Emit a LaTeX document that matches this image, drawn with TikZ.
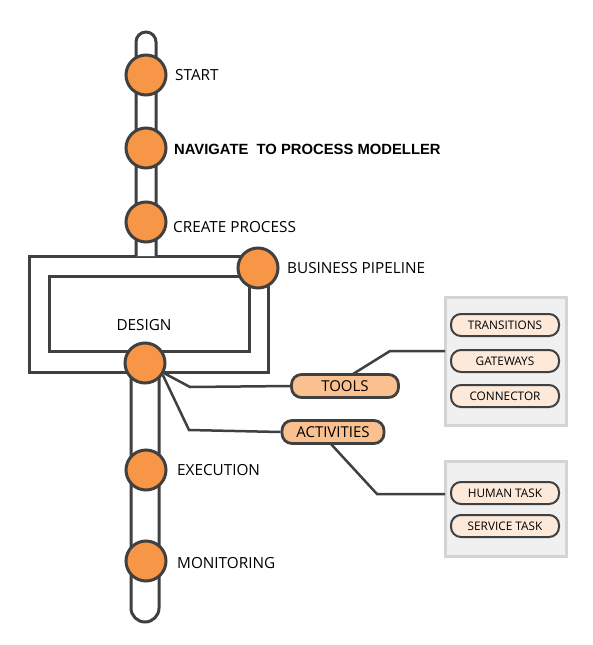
\documentclass[tikz,border=0pt]{standalone}
\usepackage{fontspec}
\setmainfont{Open Sans}
\newfontfamily\boldarial{Liberation Sans}[BoldFont={Liberation Sans Bold}]
\definecolor{ln}{HTML}{404040}
\definecolor{orng}{HTML}{F79646}
\definecolor{lorng}{HTML}{FAC090}
\definecolor{pale}{HTML}{FDE9D9}
\definecolor{panelfill}{HTML}{F0F0F0}
\definecolor{panelline}{HTML}{D4D4D4}
\tikzset{
  tube/.style={draw=ln, line width=3pt, fill=white},
  dot/.style={circle, draw=ln, line width=3pt, fill=orng, minimum size=40pt, inner sep=0pt},
  lbl/.style={anchor=west, font=\fontsize{15.3}{17}\selectfont, text=black, inner sep=0pt},
  pill/.style={rounded corners=10pt, draw=ln, line width=2.8pt, fill=lorng, minimum height=23pt, inner sep=0pt, font=\fontsize{15}{17}\selectfont},
  item/.style={rounded corners=10pt, draw=ln, line width=2pt, fill=pale, minimum width=108pt, minimum height=22pt, inner sep=0pt, font=\fontsize{11.8}{13}\selectfont},
  panel/.style={draw=panelline, line width=3pt, fill=panelfill},
  conn/.style={draw=ln, line width=2.5pt},
}
\begin{document}
\begin{tikzpicture}[x=1pt,y=-1pt]
\useasboundingbox (0,0) rectangle (592,645);
% loop
\draw[tube] (29,256) rectangle (268,372);
\draw[tube] (49,276) rectangle (249,351);
% top tube
\draw[tube] (136,256) -- (136,42) arc[start angle=180,end angle=360,radius=10] -- (156,256);
% bottom tube
\draw[tube] (131,373) -- (131,608) arc[start angle=180,end angle=0,radius=14] -- (159,373);
% panels
\draw[panel] (445,297) rectangle (566,425);
\draw[panel] (445,461) rectangle (566,556);
% circles
\node[dot] (st) at (146,75) {};
\node[dot] (nv) at (146,148) {};
\node[dot] (cp) at (146,222) {};
\node[dot] (bp) at (258,268) {};
\node[dot] (dz) at (145,363) {};
\node[dot] (ex) at (146,470) {};
\node[dot] (mo) at (146,561) {};
% labels
\node[lbl] (lst) at (175,75) {START};
\node[lbl, font=\boldarial\bfseries\fontsize{14.8}{17}\selectfont] (lnv) at (174,149) {NAVIGATE\ \ TO PROCESS MODELLER};
\node[lbl] (lcp) at (173,227) {CREATE PROCESS};
\node[lbl] (lbp) at (287,268) {BUSINESS PIPELINE};
\node[font=\fontsize{15.3}{17}\selectfont] (ldz) at (144,325) {DESIGN};
\node[lbl] (lex) at (177,470) {EXECUTION};
\node[lbl] (lmo) at (177,563) {MONITORING};
% pills
\node[pill, minimum width=107pt] (tools) at (345,386) {TOOLS};
\node[pill, minimum width=102pt] (act) at (333,432) {ACTIVITIES};
% items
\node[item] (tr) at (505,325) {TRANSITIONS};
\node[item] (gw) at (505,361) {GATEWAYS};
\node[item] (cn) at (505,396) {CONNECTOR};
\node[item] (ht) at (505,493) {HUMAN TASK};
\node[item] (sv) at (505,526) {SERVICE TASK};
% connectors
\coordinate (p1) at (445,351);
\coordinate (p2) at (445,494);
\draw[conn] (dz.-28) -- (190,387) -- (tools.west);
\draw[conn] (dz.-34) -- (189,430) -- (act.west);
\draw[conn] (353,374) -- (390,351) -- (p1);
\draw[conn] (330,443) -- (377,494) -- (p2);
\end{tikzpicture}
\end{document}
